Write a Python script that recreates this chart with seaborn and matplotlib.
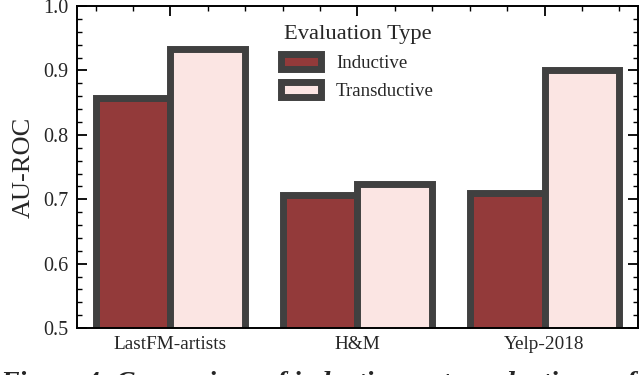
import matplotlib
matplotlib.use("Agg")
import matplotlib.pyplot as plt
import seaborn as sns
import pandas as pd
from matplotlib.ticker import AutoMinorLocator, MultipleLocator

datasets = ["LastFM-artists", "H&M", "Yelp-2018"]
inductive = [0.857, 0.706, 0.709]
transductive = [0.934, 0.724, 0.901]
eval_types = ["Inductive", "Transductive"]
colors = ["#933a3a", "#fbe5e3"]

df = pd.DataFrame({
    "Dataset": datasets * 2,
    "AU-ROC": inductive + transductive,
    "Evaluation Type": [eval_types[0]] * 3 + [eval_types[1]] * 3,
})

sns.set_theme(style="white")
plt.rcParams["font.family"] = ["Liberation Serif", "DejaVu Serif"]

fig = plt.figure(figsize=(6.4, 3.75), dpi=100)
ax = fig.add_axes([0.120, 0.125, 0.877, 0.859])

sns.barplot(data=df, x="Dataset", y="AU-ROC", hue="Evaluation Type",
            palette=colors, edgecolor="#404040", linewidth=5, saturation=1,
            width=0.8, ax=ax)

ax.set_ylim(0.5, 1.0)
ax.set_xlim(-0.5, 2.5)
ax.yaxis.set_major_locator(MultipleLocator(0.1))
ax.yaxis.set_minor_locator(AutoMinorLocator(5))
ax.xaxis.set_minor_locator(AutoMinorLocator(5))
ax.tick_params(which="both", direction="in", top=True, right=True,
               bottom=True, left=True, color="black")
ax.tick_params(which="major", length=7, width=1.3, labelsize=14.5, pad=6)
ax.tick_params(which="minor", length=3.5, width=1.0)
ax.tick_params(axis="x", which="major", labelsize=13.9, pad=6)
for s in ax.spines.values():
    s.set_linewidth(1.4)
    s.set_color("black")

ax.set_xlabel("")
ax.set_ylabel("AU-ROC", fontsize=19, labelpad=6)

handles, labels = ax.get_legend_handles_labels()
ax.legend(handles, labels, title="Evaluation Type", loc="upper center",
          frameon=False, fontsize=13.6, title_fontsize=16.2,
          handlelength=2.1, handleheight=0.8, labelspacing=0.55,
          borderaxespad=0.6)

fig.text(0.0, 0.012, "Figure 4: Comparison of inductive vs. transductive performance",
         fontsize=20, fontweight="bold", style="italic", va="top", ha="left")

fig.savefig("out.png", dpi=100)
